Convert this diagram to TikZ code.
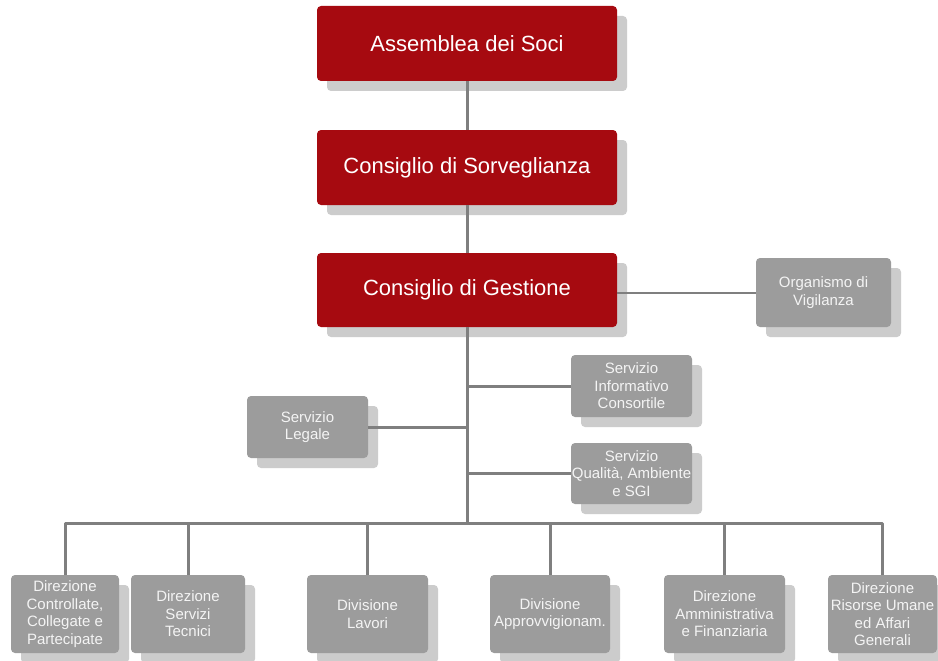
\documentclass[tikz,border=0pt]{standalone}
\usepackage{fontspec}
\setmainfont{Liberation Sans}
\usetikzlibrary{shadows}
\definecolor{boxred}{HTML}{A60A10}
\definecolor{boxgrey}{HTML}{9C9C9C}
\definecolor{shadowgrey}{HTML}{CCCCCC}
\definecolor{linegrey}{HTML}{7F7F7F}
\definecolor{greytext}{HTML}{F4F4F4}
\begin{document}
\begin{tikzpicture}[x=1pt,y=-1pt,
  myshadow/.style={drop shadow={shadow xshift=10pt,shadow yshift=-10pt,fill=shadowgrey,opacity=1}},
  redbox/.style={myshadow,fill=boxred,text=white,rounded corners=4pt,inner sep=0pt,
    minimum width=300pt,minimum height=75pt,font=\fontsize{22}{26}\selectfont},
  greybox/.style={myshadow,fill=boxgrey,text=greytext,rounded corners=4pt,inner sep=0pt,
    align=center,font=\fontsize{15}{17.5}\selectfont},
  conn/.style={draw=linegrey,line width=3pt},
  thinconn/.style={draw=linegrey,line width=2pt}]
\fill[white] (0,0) rectangle (938,661);
\useasboundingbox (0,0) rectangle (938,661);
% red boxes
\node[redbox] (ass) at (467,43.5) {Assemblea dei Soci};
\node[redbox] (sor) at (467,167.5) {Consiglio di Sorveglianza};
\node[redbox,minimum height=74pt] (ges) at (467,290) {Consiglio di Gestione};
% staff
\node[greybox,minimum width=135pt,minimum height=69pt] (org) at (823.5,292.5) {Organismo di\\Vigilanza};
\node[greybox,minimum width=121pt,minimum height=62pt] (info) at (631.5,386) {Servizio\\Informativo\\Consortile};
\node[greybox,minimum width=121pt,minimum height=62pt] (leg) at (307.5,427) {Servizio\\Legale};
\node[greybox,minimum width=121pt,minimum height=61pt] (qual) at (631.5,473.5) {Servizio\\Qualità, Ambiente\\e SGI};
% bottom row
\node[greybox,minimum width=108pt,minimum height=78pt] (c1) at (65,614) {Direzione\\Controllate,\\Collegate e\\Partecipate};
\node[greybox,minimum width=114pt,minimum height=78pt] (c2) at (188,614) {Direzione\\Servizi\\Tecnici};
\node[greybox,minimum width=121pt,minimum height=78pt] (c3) at (367.5,614) {Divisione\\Lavori};
\node[greybox,minimum width=120pt,minimum height=78pt] (c4) at (550,614) {Divisione\\Approvvigionam.};
\node[greybox,minimum width=121pt,minimum height=78pt] (c5) at (724.5,614) {Direzione\\Amministrativa\\e Finanziaria};
\node[greybox,minimum width=109pt,minimum height=78pt] (c6) at (882.5,614) {Direzione\\Risorse Umane\\ed Affari\\Generali};
% connectors
\coordinate (bus) at (467,523);
\draw[conn] (ass) -- (sor);
\draw[conn] (sor) -- (ges);
\draw[thinconn] (org.west) -- (org.west -| ges.east);
\draw[conn] (ges.south) -- (bus);
\draw[conn] (info.west) -- (info.west -| ges.south);
\draw[conn] (leg.east) -- (leg.east -| ges.south);
\draw[conn] (qual.west) -- (qual.west -| ges.south);
\draw[conn,line join=round] (c1.north) -- (c1.north |- bus) -- (c6.north |- bus) -- (c6.north);
\draw[conn] (c2.north) -- (c2.north |- bus);
\draw[conn] (c3.north) -- (c3.north |- bus);
\draw[conn] (c4.north) -- (c4.north |- bus);
\draw[conn] (c5.north) -- (c5.north |- bus);
\end{tikzpicture}
\end{document}
